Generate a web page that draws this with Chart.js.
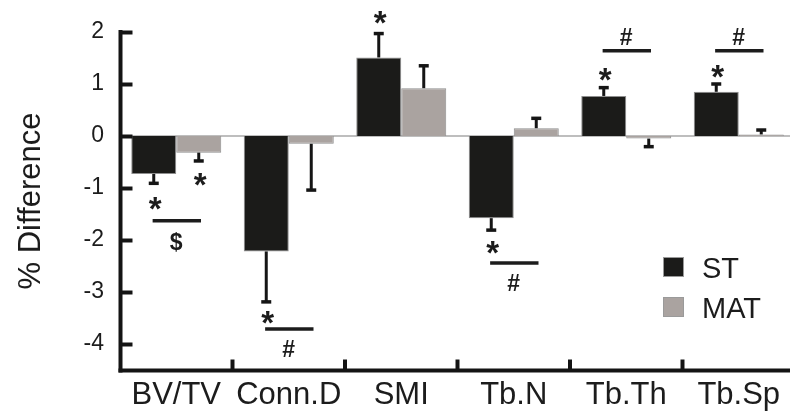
<!DOCTYPE html>
<html><head><meta charset="utf-8">
<script src="https://cdn.jsdelivr.net/npm/chart.js@4/dist/chart.umd.min.js"></script>
<style>
html,body{margin:0;padding:0;background:#fff;overflow:hidden;width:790px;height:418px}
#wrap{width:790px;height:418px;overflow:hidden;position:relative}
canvas{display:block}
</style></head><body>
<div id="wrap"><canvas id="c" width="800" height="418"></canvas></div>
<script>
// ---- data ----
const categories = ['BV/TV', 'Conn.D', 'SMI', 'Tb.N', 'Tb.Th', 'Tb.Sp'];
const seriesNames = ['ST', 'MAT'];
const stValues  = [-0.73, -2.22, 1.51, -1.58, 0.77, 0.85];
const matValues = [-0.32, -0.15, 0.92, 0.15, -0.05, 0.03];
const stErrors  = [0.18, 0.97, 0.46, 0.23, 0.16, 0.15];
const matErrors = [0.16, 0.89, 0.43, 0.19, 0.155, 0.085];
const yTicks = [-4, -3, -2, -1, 0, 1, 2];
const yMin = -4.5, yMax = 2;
// significance annotations (value-space)
const starST  = [-1.30, -3.49, 2.27, -2.14, 1.18, 1.24];
const starMAT = [-0.84, null, null, null, null, null];
const sigLine = [-1.63, -3.71, null, -2.44, 1.64, 1.64];
const sigSymbol  = ['$', '#', null, '#', '#', '#'];
const sigSymbolY = [-2.04, -4.09, null, -2.82, 1.91, 1.91];

// ---- styles ----
const FONT = '"Liberation Sans", Arial, Helvetica, sans-serif';
const colST = '#1b1b19', colMAT = '#aaa3a0', ink = '#1c1c1c';

function centeredText(ctx, txt, x, y, font) {
  ctx.font = font;
  ctx.textAlign = 'center';
  ctx.textBaseline = 'alphabetic';
  const m = ctx.measureText(txt);
  const base = y + (m.actualBoundingBoxAscent - m.actualBoundingBoxDescent) / 2;
  ctx.fillText(txt, x, base);
}

const decor = {
  id: 'decor',
  beforeDatasetsDraw(chart) {
    const {ctx, chartArea: ca, scales: {y}} = chart;
    ctx.save();
    ctx.strokeStyle = '#a8a8a8';
    ctx.lineWidth = 1.5;
    const y0 = y.getPixelForValue(0);
    ctx.beginPath(); ctx.moveTo(ca.left, y0); ctx.lineTo(ca.right + 10, y0); ctx.stroke();
    ctx.restore();
  },
  afterDatasetsDraw(chart) {
    const {ctx, scales: {y}} = chart;
    ctx.save();
    ctx.strokeStyle = '#151515';
    ctx.lineCap = 'butt';
    [[stValues, stErrors], [matValues, matErrors]].forEach(([vals, errs], di) => {
      const meta = chart.getDatasetMeta(di);
      vals.forEach((v, i) => {
        const x = meta.data[i].x;
        const end = v >= 0 ? v + errs[i] : v - errs[i];
        const py0 = y.getPixelForValue(v), py1 = y.getPixelForValue(end);
        ctx.lineWidth = 3;
        ctx.beginPath(); ctx.moveTo(x, py0); ctx.lineTo(x, py1); ctx.stroke();
        ctx.lineWidth = 3.5;
        ctx.beginPath(); ctx.moveTo(x - 5, py1); ctx.lineTo(x + 5, py1); ctx.stroke();
      });
    });
    ctx.restore();
  },
  afterDraw(chart) {
    const {ctx, chartArea: ca, scales: {x: xs, y: ys}} = chart;
    ctx.save();
    // axes
    ctx.strokeStyle = '#141414';
    ctx.lineWidth = 4;
    ctx.lineCap = 'butt';
    const ax = ca.left + 0.5;
    const top = ys.getPixelForValue(yMax);
    const bot = ca.bottom + 0.5;
    ctx.beginPath(); ctx.moveTo(ax, top - 2); ctx.lineTo(ax, bot + 2); ctx.stroke();
    yTicks.forEach(v => {
      const py = ys.getPixelForValue(v) + 0.5;
      ctx.beginPath(); ctx.moveTo(ax, py); ctx.lineTo(ax + 12, py); ctx.stroke();
    });
    ctx.beginPath(); ctx.moveTo(ax - 2, bot); ctx.lineTo(ca.right + 10, bot); ctx.stroke();
    for (let i = 1; i < categories.length; i++) {
      const bx = (xs.getPixelForValue(i - 1) + xs.getPixelForValue(i)) / 2;
      ctx.beginPath(); ctx.moveTo(bx, bot); ctx.lineTo(bx, bot - 11); ctx.stroke();
    }
    // annotations
    ctx.fillStyle = ink;
    ctx.strokeStyle = ink;
    const metaST = chart.getDatasetMeta(0), metaMAT = chart.getDatasetMeta(1);
    const catW = (xs.getPixelForValue(1) - xs.getPixelForValue(0));
    const starFont = 'bold 33px ' + FONT, symFont = 'bold 23px ' + FONT;
    categories.forEach((c, i) => {
      if (starST[i] !== null) centeredText(ctx, '*', metaST.data[i].x + 1.5, ys.getPixelForValue(starST[i]), starFont);
      if (starMAT[i] !== null) centeredText(ctx, '*', metaMAT.data[i].x + 1.5, ys.getPixelForValue(starMAT[i]), starFont);
      const cx = xs.getPixelForValue(i);
      if (sigLine[i] !== null) {
        const ly = ys.getPixelForValue(sigLine[i]);
        ctx.lineWidth = 3.5;
        ctx.beginPath(); ctx.moveTo(cx - 0.21 * catW, ly); ctx.lineTo(cx + 0.22 * catW, ly); ctx.stroke();
      }
      if (sigSymbol[i] !== null) centeredText(ctx, sigSymbol[i], cx, ys.getPixelForValue(sigSymbolY[i]), symFont);
    });
    // legend
    const lx = 663, ly = [257, 297];
    chart.data.datasets.forEach((ds, di) => {
      ctx.fillStyle = ds.backgroundColor;
      ctx.fillRect(lx, ly[di], 21, 20);
      ctx.strokeStyle = '#9a9a9a'; ctx.lineWidth = 1;
      ctx.strokeRect(lx + 0.5, ly[di] + 0.5, 20, 19);
      ctx.fillStyle = ink;
      ctx.font = '29px ' + FONT;
      ctx.textAlign = 'left';
      ctx.textBaseline = 'alphabetic';
      const m = ctx.measureText(ds.label);
      ctx.fillText(ds.label, 702, ly[di] + 10.5 + (m.actualBoundingBoxAscent - m.actualBoundingBoxDescent) / 2);
    });
    ctx.restore();
  }
};

new Chart(document.getElementById('c'), {
  type: 'bar',
  data: {
    labels: categories,
    datasets: [
      {label: seriesNames[0], data: stValues, backgroundColor: colST, borderColor: '#8e8e8e', borderWidth: 1},
      {label: seriesNames[1], data: matValues, backgroundColor: colMAT, borderColor: '#8e8e8e', borderWidth: 1}
    ]
  },
  options: {
    responsive: false,
    animation: false,
    devicePixelRatio: 1,
    categoryPercentage: 0.8,
    barPercentage: 1.0,
    layout: {padding: {top: 32, right: 5, left: 0, bottom: 0}},
    plugins: {legend: {display: false}, tooltip: {enabled: false}},
    scales: {
      x: {
        grid: {display: false, drawTicks: false},
        border: {display: false},
        ticks: {color: ink, font: {family: FONT, size: 31}, padding: 7, maxRotation: 0, autoSkip: false},
        afterFit(s) { s.height = 48; }
      },
      y: {
        min: yMin, max: yMax,
        grid: {display: false, drawTicks: false},
        border: {display: false},
        afterBuildTicks(s) { s.ticks = yTicks.map(v => ({value: v})); },
        ticks: {color: ink, font: {family: FONT, size: 23}, padding: 16, callback: v => String(v)},
        title: {display: true, text: '% Difference', color: ink, font: {family: FONT, size: 31}, padding: {top: 13, bottom: 0}},
        afterFit(s) { s.width = 120; }
      }
    }
  },
  plugins: [decor]
});
</script>
</body></html>
